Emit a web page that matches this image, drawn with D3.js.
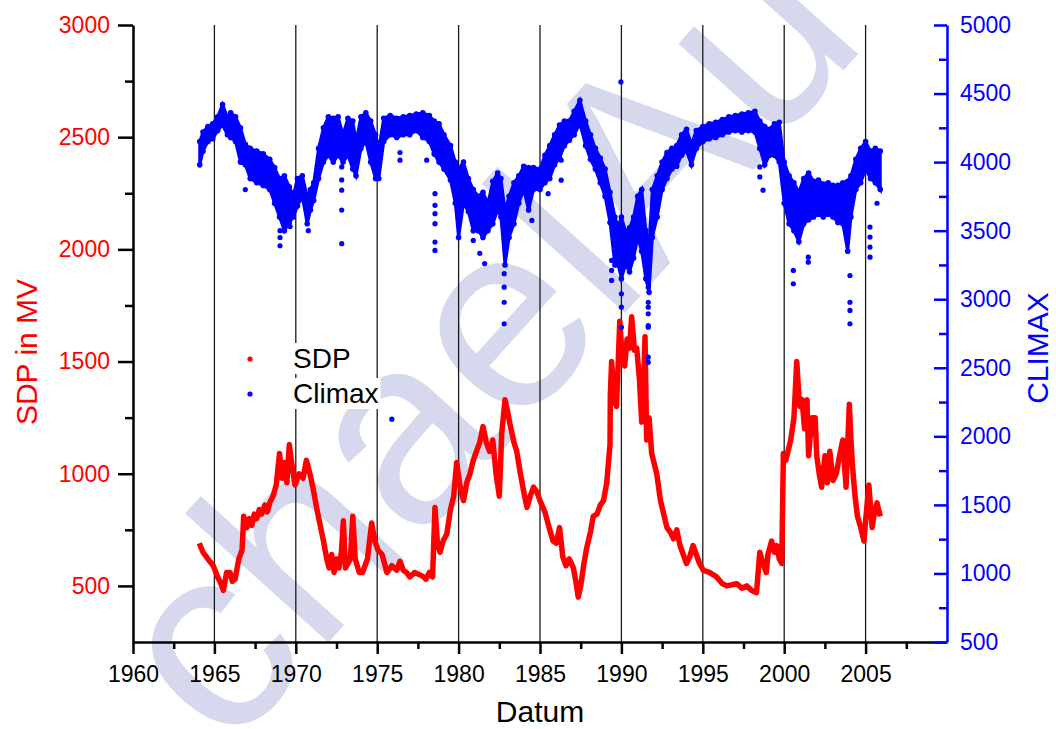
<!DOCTYPE html>
<html>
<head>
<meta charset="utf-8">
<script src="https://cdn.jsdelivr.net/npm/d3@7"></script>
<style>
  body { margin: 0; background: #fff; }
  svg { font-family: "Liberation Sans", Arial, sans-serif; }
</style>
</head>
<body>
<div id="vis-holder"></div>
<script>
// tick values
const xMajor = [1960, 1965, 1970, 1975, 1980, 1985, 1990, 1995, 2000, 2005];
const xMinor = [1962.5, 1967.5, 1972.5, 1977.5, 1982.5, 1987.5, 1992.5, 1997.5, 2002.5, 2007.5];
const gridYears = [1965, 1970, 1975, 1980, 1985, 1990, 1995, 2000, 2005];
const leftMajor = [500, 1000, 1500, 2000, 2500, 3000];
const leftMinor = [750, 1250, 1750, 2250, 2750];
const rightMajor = [500, 1000, 1500, 2000, 2500, 3000, 3500, 4000, 4500, 5000];
const rightMinor = [750, 1250, 1750, 2250, 2750, 3250, 3750, 4250, 4750];

// SDP series
const sdpYear = [1964.07, 1964.3, 1964.6, 1964.93, 1965.2, 1965.4, 1965.55, 1965.75, 1965.96, 1966.1, 1966.27, 1966.5, 1966.7, 1966.8,
  1967.0, 1967.15, 1967.3, 1967.45, 1967.6, 1967.75, 1967.9, 1968.1, 1968.25, 1968.4, 1968.6, 1968.8, 1969.0, 1969.15, 1969.3, 1969.45, 1969.6, 1969.8, 1969.95,
  1970.2, 1970.45, 1970.65, 1970.9, 1971.1, 1971.3, 1971.5, 1971.7, 1971.9, 1972.05, 1972.2, 1972.35, 1972.5, 1972.65, 1972.8,
  1972.92, 1973.05, 1973.2, 1973.35, 1973.5, 1973.65, 1973.9, 1974.1, 1974.4, 1974.66, 1974.85, 1975.05, 1975.3, 1975.6, 1975.9,
  1976.2, 1976.4, 1976.6, 1976.8, 1977.0, 1977.3, 1977.6, 1977.85, 1978.0, 1978.2, 1978.4, 1978.55, 1978.7, 1978.86, 1979.05,
  1979.27, 1979.5, 1979.7, 1979.88, 1980.1, 1980.3, 1980.5, 1980.7, 1980.9, 1981.1, 1981.3, 1981.5, 1981.7, 1981.9, 1982.1,
  1982.3, 1982.5, 1982.65, 1982.85, 1983.0, 1983.16, 1983.4, 1983.57, 1983.8, 1984.0, 1984.2, 1984.4, 1984.6, 1984.8, 1985.0,
  1985.3, 1985.6, 1985.8, 1986.0, 1986.2, 1986.4, 1986.6, 1986.8, 1987.05, 1987.2, 1987.35, 1987.5, 1987.7, 1987.87, 1988.1,
  1988.27, 1988.5, 1988.7, 1988.9, 1989.1, 1989.3, 1989.32, 1989.4, 1989.55, 1989.7, 1989.9, 1990.05, 1990.2, 1990.35, 1990.5,
  1990.63, 1990.8, 1990.94, 1991.1, 1991.25, 1991.35, 1991.45, 1991.55, 1991.7, 1991.86, 1992.0, 1992.17, 1992.4, 1992.6,
  1992.8, 1993.0, 1993.2, 1993.4, 1993.6, 1993.8, 1994.0, 1994.2, 1994.4, 1994.6, 1994.8, 1995.03, 1995.4, 1995.85, 1996.2,
  1996.47, 1996.8, 1997.08, 1997.4, 1997.7, 1998.0, 1998.3, 1998.5, 1998.7, 1998.9, 1999.0, 1999.23, 1999.4, 1999.54, 1999.7,
  1999.85, 1999.9, 1999.95, 2000.1, 2000.4, 2000.6, 2000.77, 2000.9, 2000.97, 2001.1, 2001.25, 2001.4, 2001.5, 2001.7, 2001.9,
  2002.0, 2002.15, 2002.3, 2002.5, 2002.65, 2002.8, 2003.0, 2003.2, 2003.4, 2003.6, 2003.8, 2004.0, 2004.1, 2004.2, 2004.35,
  2004.5, 2004.7, 2004.9, 2005.0, 2005.2, 2005.4, 2005.55, 2005.7, 2005.9];
const sdpValue = [690, 650, 620, 590, 540, 510, 480, 560, 560, 520, 530, 620, 660, 810,
  760, 800, 770, 820, 800, 840, 820, 860, 830, 870, 900, 950, 1090, 980, 1050, 960, 1130, 1020, 950,
  1000, 980, 1060, 990, 920, 840, 770, 700, 620, 580, 640, 560, 620, 580, 650,
  790, 580, 600, 620, 810, 620, 560, 560, 620, 780, 700, 660, 640, 560, 590,
  570, 610, 570, 560, 540, 560, 550, 540, 530, 560, 540, 850, 690, 650, 700,
  730, 840, 900, 1050, 940, 880, 960, 1000, 1060, 1100, 1140, 1210, 1140, 1100, 1150,
  1000, 900, 1180, 1330, 1280, 1220, 1140, 1100, 1000, 920, 850, 900, 940, 920, 880,
  830, 750, 700, 690, 760, 630, 590, 620, 580, 520, 450, 500, 600, 670, 740,
  810, 820, 860, 880, 960, 1130, 1350, 1500, 1330, 1300, 1680, 1520, 1480, 1600, 1560,
  1700, 1550, 1560, 1430, 1230, 1350, 1610, 1150, 1250, 1090, 1050, 1000, 880, 820,
  760, 740, 710, 750, 680, 640, 600, 630, 680, 640, 600, 570, 560, 540, 510,
  500, 505, 510, 490, 500, 480, 470, 650, 600, 560, 640, 700, 650, 680, 620,
  600, 850, 1090, 1060, 1150, 1250, 1500, 1350, 1300, 1330, 1200, 1330, 1080, 1250, 1250,
  1080, 1000, 940, 1080, 960, 1100, 970, 1000, 1080, 1150, 940, 1310, 1150, 1030, 900,
  810, 760, 700, 790, 950, 760, 830, 870, 810];

// Climax series: band of daily values, low and high edge per sample
const climaxYear = [1964.1, 1964.3, 1964.6, 1964.9, 1965.2, 1965.5, 1965.8, 1966.0, 1966.3, 1966.6, 1966.9, 1967.2, 1967.6,
  1968.0, 1968.4, 1968.7, 1969.0, 1969.3, 1969.6, 1969.85, 1970.1, 1970.4, 1970.7, 1970.9, 1971.1, 1971.4, 1971.7, 1972.0,
  1972.3, 1972.6, 1972.9, 1973.2, 1973.5, 1973.7, 1974.0, 1974.3, 1974.6, 1974.9, 1975.1, 1975.4, 1975.8, 1976.2, 1976.6,
  1977.0, 1977.4, 1977.8, 1978.2, 1978.5, 1978.8, 1979.1, 1979.5, 1979.8, 1980.0, 1980.3, 1980.6, 1980.9, 1981.2, 1981.5,
  1981.8, 1982.1, 1982.4, 1982.6, 1982.85, 1983.1, 1983.4, 1983.7, 1984.0, 1984.3, 1984.6, 1985.0, 1985.3, 1985.6, 1985.9,
  1986.2, 1986.5, 1986.8, 1987.1, 1987.45, 1987.8, 1988.1, 1988.4, 1988.7, 1989.0, 1989.3, 1989.6, 1989.8, 1990.0, 1990.25,
  1990.5, 1990.75, 1991.0, 1991.25, 1991.5, 1991.7, 1991.9, 1992.2, 1992.5, 1992.8, 1993.1, 1993.4, 1993.7, 1994.0, 1994.3,
  1994.6, 1995.0, 1995.4, 1995.8, 1996.2, 1996.6, 1997.0, 1997.4, 1997.8, 1998.2, 1998.5, 1998.8, 1999.1, 1999.4, 1999.7,
  2000.0, 2000.3, 2000.6, 2000.9, 2001.2, 2001.5, 2001.8, 2002.1, 2002.4, 2002.7, 2003.0, 2003.3, 2003.6, 2003.9, 2004.1,
  2004.4, 2004.7, 2005.0, 2005.3, 2005.6, 2005.9];
const climaxLow = [3980, 4080, 4150, 4170, 4230, 4270, 4200, 4180, 4150, 4000, 3980, 3880, 3850,
  3830, 3800, 3700, 3600, 3500, 3560, 3600, 3680, 3750, 3550, 3650, 3720, 3880, 4000, 4050,
  4000, 4050, 4000, 4050, 3950, 3900, 4100, 4150, 4000, 3880, 3880, 4150, 4200, 4180, 4200,
  4200, 4230, 4180, 4150, 4060, 4000, 3950, 3870, 3700, 3450, 3700, 3640, 3500, 3500, 3450,
  3500, 3550, 3650, 3600, 3250, 3450, 3550, 3700, 3800, 3650, 3800, 3800, 3850, 3880, 3980,
  4030, 4120, 4160, 4200, 4280, 4120, 4020, 3950, 3850, 3750, 3560, 3250, 3250, 3150, 3250,
  3200, 3300, 3450, 3350, 3150, 3050, 3450, 3600, 3800, 3880, 3950, 3970, 4050, 4080, 3980,
  4100, 4150, 4170, 4180, 4200, 4220, 4230, 4220, 4230, 4220, 4100, 3980, 4050, 4050, 4000,
  3700, 3550, 3500, 3420, 3550, 3580, 3600, 3620, 3600, 3620, 3600, 3560, 3550, 3350, 3600,
  3800, 3850, 3950, 3880, 3850, 3800];
const climaxHigh = [4150, 4220, 4260, 4280, 4330, 4420, 4330, 4360, 4330, 4250, 4130, 4100, 4080,
  4060, 4020, 3960, 3880, 3900, 3820, 3760, 3880, 3900, 3750, 3800, 3850, 4100, 4250, 4330,
  4320, 4330, 4200, 4320, 4300, 4150, 4330, 4360, 4300, 4200, 4100, 4320, 4340, 4320, 4330,
  4340, 4350, 4360, 4340, 4300, 4280, 4200, 4120, 4000, 3950, 4000, 3880, 3800, 3750, 3780,
  3700, 3860, 3920, 3880, 3650, 3750, 3850, 3900, 3970, 3960, 3960, 3950, 4050, 4120, 4200,
  4270, 4300, 4300, 4370, 4450, 4300, 4200, 4100, 4030, 3950, 3780, 3600, 3530, 3600, 3500,
  3520, 3600, 3750, 3800, 3500, 3400, 3800, 3900, 4000, 4070, 4100, 4120, 4200, 4240, 4130,
  4230, 4260, 4280, 4290, 4310, 4330, 4340, 4350, 4360, 4370, 4300, 4260, 4240, 4280, 4290,
  4000, 3900, 3850, 3780, 3880, 3920, 3860, 3870, 3840, 3850, 3830, 3830, 3850, 3860, 3900,
  4020, 4100, 4150, 4080, 4100, 4080];

// Climax single days far below the band
const outlierYear = [1966.9, 1969.03, 1969.03, 1969.03, 1969.65, 1970.77, 1972.82, 1972.82, 1972.82, 1972.82, 1972.82,
  1975.9, 1976.4, 1976.4, 1978.04, 1978.55, 1978.55, 1978.55, 1978.55, 1978.55, 1978.55, 1980.9, 1981.3, 1981.6,
  1982.8, 1982.8, 1982.8, 1982.8, 1984.5, 1985.5, 1986.3, 1986.3, 1989.4, 1989.4, 1989.4, 1989.97, 1990.0, 1990.0, 1990.0,
  1991.65, 1991.65, 1991.65, 1991.65, 1991.65, 1991.65, 1991.65, 1991.65, 1998.5, 1998.5, 1998.7, 2000.15, 2000.56, 2000.56,
  2001.48, 2001.48, 2004.04, 2004.04, 2004.04, 2004.04, 2005.27, 2005.27, 2005.27, 2005.27, 2005.7];
const outlierValue = [3800, 3500, 3450, 3390, 3530, 3500, 3965, 3870, 3795, 3650, 3405,
  2125, 4070, 4014, 4014, 3770, 3685, 3624, 3551, 3417, 3356, 3429, 3334, 3260,
  3186, 3088, 2978, 2821, 3575, 3770, 3868, 4014, 3283, 3210, 3137, 4585, 3040, 2942, 2796,
  3088, 2942, 2796, 2978, 2894, 2808, 2577, 2540, 3965, 3892, 3795, 3672, 3210, 3113,
  3307, 3270, 3173, 2978, 2918, 2821, 3526, 3453, 3380, 3307, 3700];

const legendNames = ["SDP", "Climax"];
const RED = "#ff0000", BLUE = "#0000ff";

const width = 1056, height = 729;
const svg = d3.select("#vis-holder").append("svg")
  .attr("width", width).attr("height", height);

const x = d3.scaleLinear().domain([1960, 2010]).range([133, 947]);
const yL = d3.scaleLinear().domain([250, 3000]).range([642, 25]);
const yR = d3.scaleLinear().domain([500, 5000]).range([642, 25]);

// watermark (faint, behind everything)
svg.append("text")
  .attr("transform", "translate(227,755) rotate(-48)")
  .attr("font-size", 266)
  .attr("fill", "#d6d9ee")
  .text("chaelAu");

// vertical lines every 5 years
svg.append("g").selectAll("line").data(gridYears).join("line")
  .attr("x1", d => x(d)).attr("x2", d => x(d))
  .attr("y1", yL(3000)).attr("y2", yL(250))
  .attr("stroke", "#1a1a1a").attr("stroke-width", 1.3);

// SDP line
const sdp = sdpYear.map((d, i) => [d, sdpValue[i]]);
svg.append("path").datum(sdp)
  .attr("fill", "none").attr("stroke", RED).attr("stroke-width", 5.5)
  .attr("stroke-linejoin", "round")
  .attr("d", d3.line().x(d => x(d[0])).y(d => yL(d[1])));

// Climax band
const climax = climaxYear.map((d, i) => [d, climaxLow[i], climaxHigh[i]]);
svg.append("path").datum(climax)
  .attr("fill", BLUE).attr("stroke", BLUE).attr("stroke-width", 3)
  .attr("d", d3.area().x(d => x(d[0])).y0(d => yR(d[1])).y1(d => yR(d[2])));
const edgePts = climax.flatMap(d => [[d[0], d[1]], [d[0], d[2]]]);
svg.append("g").selectAll("circle").data(edgePts).join("circle")
  .attr("cx", d => x(d[0])).attr("cy", d => yR(d[1])).attr("r", 2.8).attr("fill", BLUE);
const outliers = outlierYear.map((d, i) => [d, outlierValue[i]]);
svg.append("g").selectAll("circle").data(outliers).join("circle")
  .attr("cx", d => x(d[0])).attr("cy", d => yR(d[1])).attr("r", 2.6).attr("fill", BLUE);

// axes
function styleAxis(g, color, labelColor) {
  g.select(".domain").attr("stroke", color).attr("stroke-width", 2.5);
  g.selectAll(".tick line").attr("stroke", color).attr("stroke-width", 2.5);
  g.selectAll(".tick text").attr("fill", labelColor).attr("font-size", 23)
    .attr("font-family", "Liberation Sans, Arial, sans-serif");
}

svg.append("g").attr("transform", "translate(0,642)")
  .call(d3.axisBottom(x).tickValues(xMajor).tickFormat(d3.format("d"))
    .tickSizeInner(12).tickSizeOuter(0).tickPadding(11.5))
  .call(g => styleAxis(g, "#000", "#000"));
svg.append("g").attr("transform", "translate(0,642)")
  .call(d3.axisBottom(x).tickValues(xMinor).tickFormat("").tickSizeInner(7).tickSizeOuter(0))
  .call(g => { g.select(".domain").remove(); styleAxis(g, "#000", "#000"); });

svg.append("g").attr("transform", "translate(133,0)")
  .call(d3.axisLeft(yL).tickValues(leftMajor).tickFormat(d3.format("d"))
    .tickSizeInner(15).tickSizeOuter(0).tickPadding(8))
  .call(g => styleAxis(g, "#000", RED));
svg.append("g").attr("transform", "translate(133,0)")
  .call(d3.axisLeft(yL).tickValues(leftMinor).tickFormat("").tickSizeInner(8).tickSizeOuter(0))
  .call(g => { g.select(".domain").remove(); styleAxis(g, "#000", RED); });

svg.append("g").attr("transform", "translate(947,0)")
  .call(d3.axisRight(yR).tickValues(rightMajor).tickFormat(d3.format("d"))
    .tickSizeInner(-13).tickSizeOuter(0).tickPadding(13))
  .call(g => styleAxis(g, BLUE, BLUE));
svg.append("g").attr("transform", "translate(947,0)")
  .call(d3.axisRight(yR).tickValues(rightMinor).tickFormat("").tickSizeInner(-8).tickSizeOuter(0))
  .call(g => { g.select(".domain").remove(); styleAxis(g, BLUE, BLUE); });

// axis titles
svg.append("text").attr("x", 540).attr("y", 722).attr("text-anchor", "middle")
  .attr("font-size", 30).attr("fill", "#000").text("Datum");
svg.append("text").attr("transform", "translate(37,352) rotate(-90)").attr("text-anchor", "middle")
  .attr("font-size", 30).attr("fill", RED).text("SDP in MV");
svg.append("text").attr("transform", "translate(1048,348) rotate(-90)").attr("text-anchor", "middle")
  .attr("font-size", 30).attr("fill", BLUE).text("CLIMAX");

// legend
const legend = svg.append("g");
legendNames.forEach((name, i) => {
  const ty = 368 + i * 35;
  const t = legend.append("text").attr("x", 293).attr("y", ty)
    .attr("font-size", 28).attr("fill", "#000").text(name);
  const b = t.node().getBBox();
  legend.insert("rect", "text").attr("x", b.x - 4).attr("y", b.y).attr("width", b.width + 6)
    .attr("height", b.height).attr("fill", "#fff");
  legend.append("circle").attr("cx", 250).attr("cy", ty - 9).attr("r", 2.6)
    .attr("fill", i === 0 ? RED : BLUE);
});
</script>
</body>
</html>
